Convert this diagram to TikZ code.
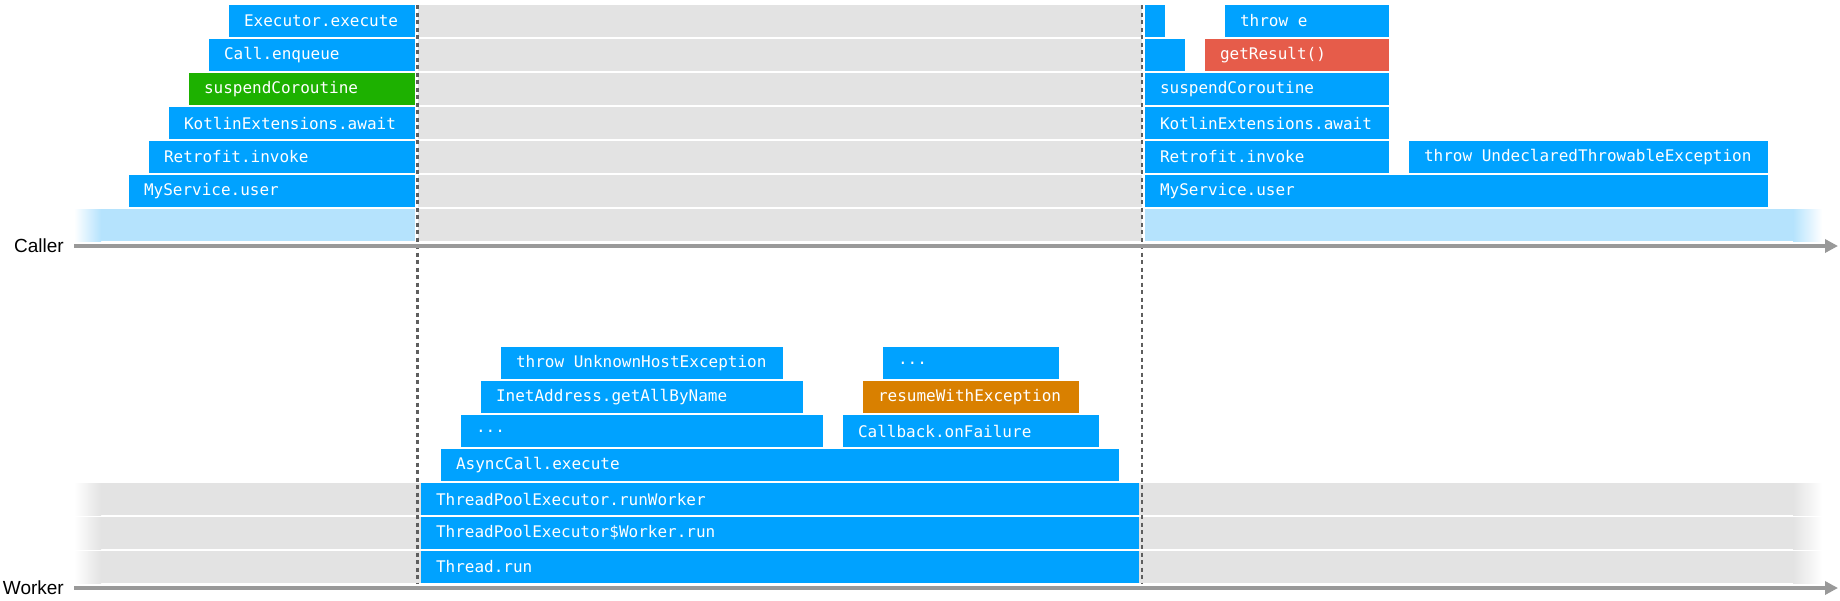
\documentclass[tikz,border=0pt]{standalone}
\usepackage{fontspec}
\setmainfont{Liberation Sans}
\setmonofont{DejaVu Sans Mono}
\usetikzlibrary{arrows.meta}
\definecolor{cblue}{HTML}{00A2FF}
\definecolor{cband}{HTML}{B5E3FD}
\definecolor{cgray}{HTML}{E3E3E3}
\definecolor{cgreen}{HTML}{1DB100}
\definecolor{cred}{HTML}{E65C4A}
\definecolor{corange}{HTML}{D98000}
\definecolor{caxis}{HTML}{999999}
\definecolor{cdash}{HTML}{5E5E5E}
\tikzset{
  framebox/.style={fill=cblue, text=white, inner xsep=15pt, inner ysep=0pt,
    minimum height=32pt, anchor=north west, outer sep=0pt,
    font=\fontsize{16pt}{19pt}\selectfont\ttfamily},
  blankframe/.style={fill=cblue, inner sep=0pt, minimum height=32pt,
    anchor=north west, outer sep=0pt},
  axisline/.style={draw=caxis, line width=3.5pt, -{Triangle[length=13pt,width=13pt]}},
  timeline/.style={draw=cdash, line width=2.2pt, dash pattern=on 4pt off 3.5pt},
  axislabel/.style={font=\fontsize{19pt}{22pt}\selectfont, anchor=east, inner sep=0pt},
}
\newcommand\stackbox[6]{\pgfmathsetmacro\sbw{#3-#2-30}%
  \node[framebox,#5] (#1) at (#2,#4) {\makebox[\sbw pt][l]{#6}};}
\newcommand\blankbox[4]{\pgfmathsetmacro\sbw{#3-#2}%
  \node[blankframe,minimum width=\sbw pt] (#1) at (#2,#4) {};}
\begin{document}
\begin{tikzpicture}[x=1pt,y=-1pt]
\useasboundingbox (0,0) rectangle (1840,600);
% gray background rows (caller, between the time marks)
\foreach \t in {5,39,73,107,141,175,209}
  \fill[cgray] (418,\t) rectangle (1142,\t+32);
% worker gray rows
\foreach \t in {483,517,551}{
  \fill[cgray] (100,\t) rectangle (1794,\t+32);
  \shade[left color=white,right color=cgray] (74,\t) rectangle (101,\t+32);
  \shade[left color=cgray,right color=white] (1793,\t) rectangle (1822,\t+32);
}
% caller light blue band
\fill[cband] (100,209) rectangle (415,241);
\shade[left color=white,right color=cband] (74,209) rectangle (101,241);
\fill[cband] (1145,209) rectangle (1794,241);
\shade[left color=cband,right color=white] (1793,209) rectangle (1822,241);
% caller stack, before
\stackbox{exec}{229}{415}{5}{}{Executor.execute}
\stackbox{enq}{209}{415}{39}{}{Call.enqueue}
\stackbox{susp}{189}{415}{73}{fill=cgreen}{suspendCoroutine}
\stackbox{await}{169}{415}{107}{}{KotlinExtensions.await}
\stackbox{retro}{149}{415}{141}{}{Retrofit.invoke}
\stackbox{svc}{129}{415}{175}{}{MyService.user}
% caller stack, after
\blankbox{execR}{1145}{1165}{5}
\stackbox{throwe}{1225}{1389}{5}{}{throw e}
\blankbox{enqR}{1145}{1185}{39}
\stackbox{getres}{1205}{1389}{39}{fill=cred}{getResult()}
\stackbox{suspR}{1145}{1389}{73}{}{suspendCoroutine}
\stackbox{awaitR}{1145}{1389}{107}{}{KotlinExtensions.await}
\stackbox{retroR}{1145}{1389}{141}{}{Retrofit.invoke}
\stackbox{undecl}{1409}{1768}{141}{}{throw UndeclaredThrowableException}
\stackbox{svcR}{1145}{1768}{175}{}{MyService.user}
% worker stack
\stackbox{unk}{501}{783}{347}{}{throw UnknownHostException}
\stackbox{inet}{481}{803}{381}{}{InetAddress.getAllByName}
\stackbox{dotsA}{461}{823}{415}{}{...}
\stackbox{async}{441}{1119}{449}{}{AsyncCall.execute}
\stackbox{tprw}{421}{1139}{483}{}{ThreadPoolExecutor.runWorker}
\stackbox{tpwr}{421}{1139}{517}{}{ThreadPoolExecutor\$Worker.run}
\stackbox{trun}{421}{1139}{551}{}{Thread.run}
\stackbox{dotsB}{883}{1059}{347}{}{...}
\stackbox{resume}{863}{1079}{381}{fill=corange}{resumeWithException}
\stackbox{cbfail}{843}{1099}{415}{}{Callback.onFailure}
% time marks
\coordinate (m1a) at (417.5,5);
\coordinate (m1b) at (417.5,584);
\coordinate (m2a) at (1142,5);
\coordinate (m2b) at (1142,584);
\draw[timeline] (m1a) -- (m1b);
\draw[timeline] (m2a) -- (m2b);
% axes
\coordinate (cs) at (74,246);
\coordinate (ce) at (1838,246);
\coordinate (ws) at (74,588);
\coordinate (we) at (1838,588);
\draw[axisline] (cs) -- (ce);
\draw[axisline] (ws) -- (we);
\node[axislabel] (callerlbl) at (64,246) {Caller};
\node[axislabel] (workerlbl) at (64,588) {Worker};
\end{tikzpicture}
\end{document}
